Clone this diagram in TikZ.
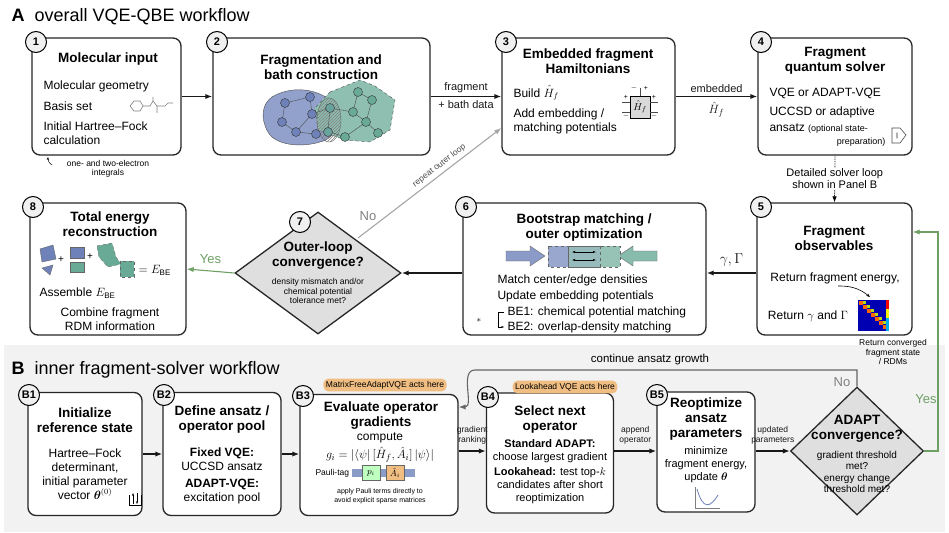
\documentclass[tikz,border=0pt]{standalone}
\usepackage{amsmath,amssymb,bm}
\usepackage{fontspec}
\setmainfont{Liberation Sans}
\usetikzlibrary{shapes.geometric,arrows.meta,patterns,calc}
\definecolor{bfill}{RGB}{110,130,185}
\definecolor{gfill}{RGB}{105,170,150}
\definecolor{ygreen}{RGB}{110,160,100}
\definecolor{orng}{RGB}{240,190,130}
\tikzset{
  box/.style={draw=black!85,line width=1.3pt,rounded corners=8pt,fill=white},
  num/.style={circle,draw=black,line width=1pt,fill=gray!12,inner sep=0pt,minimum size=21pt,font=\bfseries\fontsize{11}{11}\selectfont},
  ttl/.style={font=\bfseries\fontsize{13.5}{15}\selectfont,align=center},
  bod/.style={font=\fontsize{12}{14}\selectfont,align=center},
  sml/.style={font=\fontsize{8.5}{9.5}\selectfont,align=center},
  arr/.style={-{Latex[length=7pt]},line width=1.3pt,black!90},
  garr/.style={-{Latex[length=7pt]},line width=1.1pt,gray!70},
  yarr/.style={-{Latex[length=7pt]},line width=1.1pt,ygreen},
  dia/.style={diamond,draw=black!85,line width=1.3pt,fill=gray!25,inner sep=0pt},
  badge/.style={fill=orng,rounded corners=5pt,font=\fontsize{8.5}{9}\selectfont,inner sep=2.5pt},
  gnode/.style={circle,draw=black!80,inner sep=0pt,minimum size=9pt}
}
\begin{document}
\begin{tikzpicture}[x=1pt,y=-1pt]
\useasboundingbox (0,0) rectangle (949,532);
\fill[gray!10] (4,345) rectangle (945,532);
\node[anchor=west,font=\fontsize{18}{19}\selectfont] (tA) at (8,17) {\textbf{A}\ \ overall VQE-QBE workflow};
\node[anchor=west,font=\fontsize{18}{19}\selectfont] (tB) at (8,370) {\textbf{B}\ \ inner fragment-solver workflow};

% ---------- boxes A ----------
\node[box,minimum width=149pt,minimum height=117pt] (b1) at (106.5,96.5) {};
\node[box,minimum width=217pt,minimum height=117pt] (b2) at (321.5,96.5) {};
\node[box,minimum width=173pt,minimum height=117pt] (b3) at (588.5,96.5) {};
\node[box,minimum width=154pt,minimum height=117pt] (b4) at (835,96.5) {};
\node[box,minimum width=155pt,minimum height=132pt] (b5) at (834.5,269) {};
\node[box,minimum width=243pt,minimum height=132pt] (b6) at (584.5,269) {};
\node[dia,minimum width=166pt,minimum height=122pt] (b7) at (318,273) {};
\node[box,minimum width=156pt,minimum height=132pt] (b8) at (108,269) {};
\node[num] (n1) at (36,42) {1};
\node[num] (n2) at (217,42) {2};
\node[num] (n3) at (506,42) {3};
\node[num] (n4) at (761,42) {4};
\node[num] (n5) at (761,207) {5};
\node[num] (n6) at (466,207) {6};
\node[num] (n7) at (300,222) {7};
\node[num] (n8) at (33,207) {8};

% box1
\node[ttl] (t1) at (108,59) {Molecular input};
\node[bod,anchor=west] (l1) at (40,86) {Molecular geometry};
\node[bod,anchor=west] (l2) at (40,106) {Basis set};
\node[bod,anchor=west,align=left] (l3) at (40,133) {Initial Hartree–Fock\\calculation};
\draw[gray,line width=0.6pt] (130,106)--(134,101)--(140,101)--(143,106)--(140,111)--(134,111)--cycle (143,106)--(150,106)--(153,101)--(157,106)--(165,106)--(168,103)--(173,103) (153,101)--(153,97) (157,106)--(157,113);
\node[sml] (int) at (108,169) {one- and two-electron\\integrals};
\draw[-{Stealth[length=3pt]},line width=0.5pt] (52,165) to[bend left=30] (48,157);

% box2
\node[ttl] (t2) at (321,67) {Fragmentation and\\bath construction};
\draw[fill=bfill!75,draw=black!70] (272,97) .. controls (290,86) and (315,88) .. (330,100) .. controls (345,115) and (338,138) .. (320,142) .. controls (300,148) and (275,145) .. (268,132) .. controls (260,118) and (262,104) .. (272,97);
\draw[fill=gfill!75,draw=black!70,dashed] (330,92) -- (360,80) -- (375,86) -- (395,100) -- (390,130) -- (370,142) -- (345,140) -- (318,130) -- (315,108) -- cycle;
\draw[pattern=north east lines,pattern color=black!50,draw=black!60] (329,120) ellipse (12pt and 22pt);
\foreach \a/\b/\c/\d in {285/103/310/97,285/103/282/122,282/122/296/132,296/132/316/134,310/97/312/114,312/114/296/132,312/114/330/108,330/108/328/132,358/92/372/100,372/100/366/122,366/122/378/133,358/92/353/112,353/112/366/122,353/112/330/108,345/137/366/122,345/137/330/132}{\draw[black!70] (\a,\b)--(\c,\d);}
\foreach \x/\y in {285/103,310/97,282/122,296/132,316/134,312/114}{\node[gnode,fill=bfill] at (\x,\y) {};}
\foreach \x/\y in {330/108,328/132}{\node[gnode,fill=gfill!80!bfill] at (\x,\y) {};}
\foreach \x/\y in {358/92,372/100,366/122,378/133,353/112,345/137}{\node[gnode,fill=gfill] at (\x,\y) {};}

% box3
\node[ttl] (t3) at (588,61) {Embedded fragment\\Hamiltonians};
\node[bod,anchor=west] (l31) at (510,93) {Build $\hat H_f$};
\node[bod,anchor=west,align=left] (l32) at (510,121) {Add embedding /\\matching potentials};
\node[draw,fill=gray!30,minimum width=20pt,minimum height=22pt,inner sep=0pt] (hf) at (640,107) {$\hat H_f$};
\draw[black!70,line width=0.5pt] (622,102)--(630,102) (622,112)--(630,112) (650,102)--(658,102) (650,112)--(658,112) (640,88)--(640,96);
\node[font=\fontsize{7}{7}\selectfont] at (626,97) {+};
\node[font=\fontsize{7}{7}\selectfont] at (626,116) {$-$};
\node[font=\fontsize{7}{7}\selectfont] at (654,97) {+};
\node[font=\fontsize{7}{7}\selectfont] at (654,116) {$-$};
\node[font=\fontsize{7}{7}\selectfont] at (634,88) {$-$};
\node[font=\fontsize{7}{7}\selectfont] at (646,88) {+};

% box4
\node[ttl] (t4) at (835,61) {Fragment\\quantum solver};
\node[bod,anchor=west] (l41) at (766,93) {VQE or ADAPT-VQE};
\node[bod,anchor=west] (l42) at (766,112) {UCCSD or adaptive};
\node[bod,anchor=west] (l43) at (766,129) {ansatz {\fontsize{9}{10}\selectfont (optional state-}};
\node[anchor=east,font=\fontsize{9}{10}\selectfont] (l44) at (889,142) {preparation)};
\draw[black!70,line width=0.6pt] (892,128)--(900,128)--(906,135)--(900,143)--(892,143)--cycle;
\node[font=\fontsize{6}{6}\selectfont] at (897,135.5) {$|\!|$};

% box5
\node[ttl] (t5) at (834,238) {Fragment\\observables};
\node[bod] (l51) at (835,278) {Return fragment energy,};
\node[bod] (l52) at (808,316) {Return $\gamma$ and $\Gamma$};
\fill[blue!70!black] (858,300) rectangle (889,331);
\foreach \i in {0,...,6}{\fill[orange!80!red] ({859+\i*4},{301+\i*4}) rectangle ++(4,4);}
\foreach \i in {0,...,5}{\fill[yellow!70!green] ({863+\i*4},{301+\i*4}) rectangle ++(3,3);}
\fill[red] (886,300) rectangle (889,309);\fill[yellow] (886,309) rectangle (889,318);\fill[cyan] (886,318) rectangle (889,331);
\draw[-{Stealth[length=4pt]},line width=0.6pt] (838,286) to[bend left=20] (870,297);

% box6
\node[ttl] (t6) at (584,228) {Bootstrap matching /\\outer optimization};
\draw[fill=bfill!80,draw=black!60] (506,251)--(530,251)--(530,246)--(545,256)--(530,266)--(530,261)--(506,261)--cycle;
\draw[fill=gfill!80,draw=black!60] (657,251)--(633,251)--(633,246)--(618,256)--(633,266)--(633,261)--(657,261)--cycle;
\draw[fill=bfill!70,dashed,draw=black!60] (548,246) rectangle (568,267);
\draw[fill=gfill!70!bfill!70,draw=black!60] (568,246) rectangle (600,267);
\draw[fill=gfill!70,dashed,draw=black!60] (600,246) rectangle (620,267);
\draw[{Latex[length=3pt]}-{Latex[length=3pt]}] (572,252)--(596,252);
\draw[{Latex[length=3pt]}-{Latex[length=3pt]}] (572,260)--(596,260);
\node[bod,anchor=west] (l61) at (494,280) {Match center/edge densities};
\node[bod,anchor=west] (l62) at (494,296) {Update embedding potentials};
\node[bod,anchor=west] (l63) at (504,312) {BE1: chemical potential matching};
\node[bod,anchor=west] (l64) at (504,327) {BE2: overlap-density matching};
\node[font=\fontsize{9}{9}\selectfont] (st) at (479,320) {$*$};
\draw[-{Stealth[length=3pt]},line width=0.5pt] (504,312)--(498,312)--(498,327)--(504,327);

% diamond 7
\node[ttl] (t7) at (318,256) {Outer-loop\\convergence?};
\node[sml] (l7) at (318,291) {density mismatch and/or\\chemical potential\\tolerance met?};

% box8
\node[ttl] (t8) at (110,224) {Total energy\\reconstruction};
\draw[fill=bfill,draw=black!60] (40,249)--(53,245)--(56,259)--(42,262)--cycle;
\draw[fill=bfill,draw=black!60] (42,268)--(53,265)--(50,275)--cycle;
\node[font=\fontsize{10}{10}\selectfont] at (61,260) {+};
\draw[fill=bfill,draw=black!60] (70,247) rectangle (84,258);
\draw[fill=gfill,draw=black!60] (70,262) rectangle (84,272);
\node[font=\fontsize{10}{10}\selectfont] at (90,257) {+};
\draw[fill=gfill,draw=black!60,dashed] (97,246)--(112,243)--(116,257)--(121,264)--(108,267)--(99,257)--cycle;
\draw[fill=gfill,draw=black!60,dashed] (120,261) rectangle (134,277);
\node[font=\fontsize{12}{12}\selectfont,anchor=west] (eq8) at (135,270) {$=E_{\mathrm{BE}}$};
\node[bod,anchor=west] (l81) at (36,293) {Assemble $E_{\mathrm{BE}}$};
\node[bod] (l82) at (110,319) {Combine fragment\\RDM information};

% A arrows
\draw[arr] (b1.east) -- (b2.west);
\draw[arr] (b2.east) -- (b3.west) node[midway,above,bod,font=\fontsize{11}{12}\selectfont] {fragment} node[midway,below,bod,font=\fontsize{11}{12}\selectfont] {+ bath data};
\draw[arr] (b3.east) -- (b4.west) node[midway,above,bod,font=\fontsize{11}{12}\selectfont] {embedded} node[midway,below=2pt,bod,font=\fontsize{13}{13}\selectfont] {$\hat H_f$};
\draw[-{Latex[length=6pt]},densely dotted,line width=0.8pt] (b4.south) -- (b5.north) node[midway,fill=white,bod,font=\fontsize{11}{12}\selectfont,inner sep=1pt] {Detailed solver loop\\shown in Panel B};
\draw[arr] (b5.west|-0,273) -- (b6.east|-0,273) node[midway,above=3pt,bod,font=\fontsize{14}{14}\selectfont] {$\gamma,\Gamma$};
\draw[arr] (b6.west|-0,273) -- (b7.east);
\draw[yarr] (b7.west) -- (b8.east) node[midway,above=3pt,bod,text=ygreen,font=\fontsize{13}{13}\selectfont] {Yes};
\coordinate (rp) at (358,238);
\draw[garr] (rp) -- (b3.west|-0,128) node[pos=0.6,above,sloped,sml,text=black!70] {repeat outer loop};
\node[bod,text=gray,font=\fontsize{13}{13}\selectfont] (no7) at (368,216) {No};

% ---------- panel B ----------
\node[box,minimum width=114pt,minimum height=123pt] (c1) at (85,454) {};
\node[box,minimum width=118pt,minimum height=123pt] (c2) at (222,454) {};
\node[box,minimum width=158pt,minimum height=121pt] (c3) at (379,455) {};
\node[box,minimum width=127pt,minimum height=120pt] (c4) at (550,453) {};
\node[box,minimum width=98pt,minimum height=120pt] (c5) at (706,452) {};
\node[dia,minimum width=133pt,minimum height=128pt] (c6) at (857,451) {};
\node[badge] (bd3) at (385,385) {MatrixFreeAdaptVQE acts here};
\node[badge] (bd4) at (565,387) {Lookahead VQE acts here};
\node[num] (m1) at (29,395) {B1};
\node[num] (m2) at (164,395) {B2};
\node[num] (m3) at (303,396) {B3};
\node[num] (m4) at (488,397) {B4};
\node[num] (m5) at (657,395) {B5};

\node[ttl] (s1t) at (85,420) {Initialize\\reference state};
\node[bod] (s1b) at (85,474) {Hartree–Fock\\determinant,\\initial parameter\\vector $\bm{\theta}^{(0)}$};
\draw[line width=0.6pt] (129,505)--(129,495) (129,505)--(141,505)--(141,495);
\draw[-{Stealth[length=3pt]},line width=0.6pt] (133,504)--(133,493);
\draw[-{Stealth[length=3pt]},line width=0.6pt] (137,493)--(137,504);

\node[ttl] (s2t) at (222,420) {Define ansatz /\\operator pool};
\node[bod] (s2b) at (222,476) {\textbf{Fixed VQE:}\\UCCSD ansatz\\[3pt]\textbf{ADAPT-VQE:}\\excitation pool};

\node[ttl] (s3t) at (381,416) {Evaluate operator\\gradients};
\node[bod] (s3a) at (380,438) {compute};
\node[bod,font=\fontsize{13}{13}\selectfont] (s3f) at (380,455) {$g_i=|\langle\psi|\,[\hat H_f,\hat A_i]\,|\psi\rangle|$};
\node[sml,anchor=west] (pt) at (312,473) {Pauli-tag};
\fill[bfill!80] (352,469) rectangle (415,477);
\node[draw=black!60,fill=green!25,minimum width=18pt,minimum height=15pt,inner sep=0pt,font=\fontsize{9}{9}\selectfont] at (371,473) {$p_i$};
\node[draw=black!60,fill=orng,minimum width=18pt,minimum height=15pt,inner sep=0pt,font=\fontsize{9}{9}\selectfont] at (395,473) {$\hat A_i$};
\node[sml,font=\fontsize{7}{8.5}\selectfont] (s3s) at (380,496) {apply Pauli terms directly to\\avoid explicit sparse matrices};

\node[ttl] (s4t) at (550,420) {Select next\\operator};
\node[bod,font=\fontsize{11}{13}\selectfont] (s4b) at (550,472) {\textbf{Standard ADAPT:}\\choose largest gradient\\[2pt]\textbf{Lookahead:} test top-$k$\\candidates after short\\reoptimization};

\node[ttl] (s5t) at (706,419) {Reoptimize\\ansatz\\parameters};
\node[bod,font=\fontsize{11}{13}\selectfont] (s5b) at (706,465) {minimize\\fragment energy,\\update $\bm{\theta}$};
\draw[line width=0.6pt,gray] (695,487)--(695,508)--(720,508);
\draw[line width=0.8pt,bfill] (697,489) .. controls (703,510) and (710,508) .. (718,495);

\node[ttl] (s6t) at (857,429) {ADAPT\\convergence?};
\node[bod,font=\fontsize{10}{11.5}\selectfont] (s6b) at (857,472) {gradient threshold\\met?\\energy change\\threshold met?};

\draw[arr] (c1.east|-0,454) -- (c2.west|-0,454);
\draw[arr] (c2.east|-0,454) -- (c3.west|-0,454);
\draw[arr] (c3.east|-0,451) -- (c4.west|-0,451) node[midway,above=3pt,sml] {gradient\\ranking};
\draw[arr] (c4.east|-0,451) -- (c5.west|-0,451) node[midway,above=3pt,sml] {append\\operator};
\draw[arr] (c5.east|-0,451) -- (c6.west) node[midway,above=3pt,sml] {updated\\parameters};
\coordinate (lp1) at (857,370);
\draw[garr,black!60] (c6.north) -- (lp1) -- (475,370) to[out=180,in=0] (c3.east|-0,407);
\node[bod,font=\fontsize{11.5}{12}\selectfont] (cag) at (650,360) {continue ansatz growth};
\node[bod,text=gray,font=\fontsize{13}{13}\selectfont] (no6) at (842,382) {No};
\coordinate (ye1) at (938,451);
\coordinate (ye2) at (938,232);
\draw[yarr] (c6.east) -- (ye1) -- (ye2) -- (b5.east|-ye2);
\node[bod,text=ygreen,font=\fontsize{13}{13}\selectfont] (yes6) at (926,399) {Yes};
\node[sml] (rc) at (893,352) {Return converged\\fragment state\\/ RDMs};
\end{tikzpicture}
\end{document}
